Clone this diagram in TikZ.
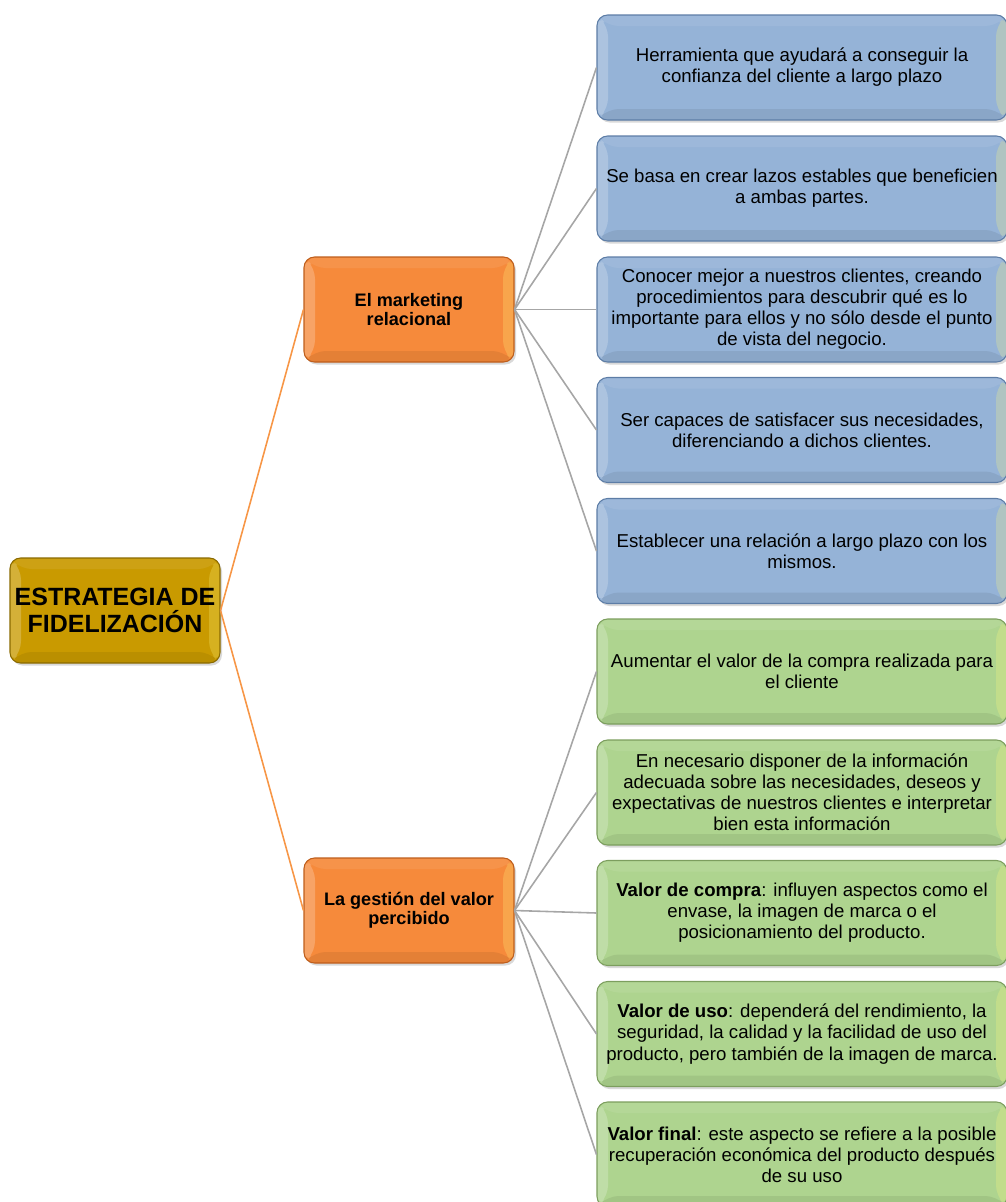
\documentclass[tikz,border=0pt]{standalone}
\usepackage{fontspec}
\setmainfont{Liberation Sans}
\usetikzlibrary{calc,shadows}
\definecolor{goldfill}{HTML}{C99A00}
\definecolor{golddraw}{HTML}{8A6A00}
\definecolor{orangefill}{HTML}{F68A3B}
\definecolor{orangedraw}{HTML}{BE5E1C}
\definecolor{bluefill}{HTML}{95B3D7}
\definecolor{bluedraw}{HTML}{5D7DA6}
\definecolor{greenfill}{HTML}{AED48F}
\definecolor{greendraw}{HTML}{7C9E5E}
\definecolor{linkgray}{HTML}{A6A6A6}
\definecolor{linkorange}{HTML}{F79646}
\newcommand{\bevelfaces}{%
	\coordinate (pnw) at (path picture bounding box.north west);
	\coordinate (pne) at (path picture bounding box.north east);
	\coordinate (psw) at (path picture bounding box.south west);
	\coordinate (pse) at (path picture bounding box.south east);
	\fill[white,opacity=.22] (pnw) -- (psw) -- ($(psw)+(.22,.22)$) -- ($(pnw)+(.22,-.22)$) -- cycle;
	\fill[yellow!50!white,opacity=.25] (pne) -- (pse) -- ($(pse)+(-.22,.22)$) -- ($(pne)+(-.22,-.22)$) -- cycle;
	\fill[white,opacity=.08] (pnw) -- (pne) -- ($(pne)+(-.22,-.22)$) -- ($(pnw)+(.22,-.22)$) -- cycle;
	\fill[black,opacity=.07] (psw) -- (pse) -- ($(pse)+(-.22,.22)$) -- ($(psw)+(.22,.22)$) -- cycle;
}
\tikzset{
	box/.style={rounded corners=6pt, line width=0.6pt, align=center, inner sep=0pt,
		drop shadow={opacity=.3, shadow xshift=.04, shadow yshift=-.05},
		path picture={\bevelfaces}},
	rootbox/.style={box, fill=goldfill, draw=golddraw, minimum width=4.2cm, minimum height=2.1cm,
		font=\fontsize{14.2}{15.5}\selectfont\bfseries},
	topicbox/.style={box, fill=orangefill, draw=orangedraw, minimum width=4.2cm, minimum height=2.1cm,
		font=\fontsize{10.3}{10.8}\selectfont\bfseries},
	ideabox/.style={box, fill=bluefill, draw=bluedraw, minimum width=8.2cm, minimum height=2.1cm,
		font=\fontsize{10.6}{12}\selectfont},
	valuebox/.style={box, fill=greenfill, draw=greendraw, minimum width=8.2cm, minimum height=2.1cm,
		font=\fontsize{10.6}{12}\selectfont},
	graylink/.style={draw=linkgray, line width=0.9pt},
	orangelink/.style={draw=linkorange, line width=0.9pt}
}

\begin{document}
\begin{tikzpicture}
		%%%%% START %%%%%
		\useasboundingbox (0, 0) rectangle (20.12, -24.04);
		
		\node[rootbox] (root) at (2.30, -12.21) {ESTRATEGIA DE\\FIDELIZACIÓN};
		
		\node[topicbox] (mkt) at (8.18, -6.19) {El marketing\\relacional};
		\node[topicbox] (val) at (8.18, -18.21) {La gestión del valor\\percibido};
		
		\node[ideabox] (b1) at (16.04, -1.35) {Herramienta que ayudará a conseguir la\\confianza del cliente a largo plazo};
		\node[ideabox] (b2) at (16.04, -3.77) {Se basa en crear lazos estables que beneficien\\a ambas partes.};
		\node[ideabox] (b3) at (16.04, -6.19) {Conocer mejor a nuestros clientes, creando\\procedimientos para descubrir qué es lo\\importante para ellos y no sólo desde el punto\\de vista del negocio.};
		\node[ideabox] (b4) at (16.04, -8.60) {Ser capaces de satisfacer sus necesidades,\\diferenciando a dichos clientes.};
		\node[ideabox] (b5) at (16.04, -11.02) {Establecer una relación a largo plazo con los\\mismos.};
		
		\node[valuebox] (g1) at (16.04, -13.43) {Aumentar el valor de la compra realizada para\\el cliente};
		\node[valuebox] (g2) at (16.04, -15.85) {En necesario disponer de la información\\adecuada sobre las necesidades, deseos y\\expectativas de nuestros clientes e interpretar\\bien esta información};
		\node[valuebox] (g3) at (16.04, -18.26) {\textbf{Valor de compra}: influyen aspectos como el\\envase, la imagen de marca o el\\posicionamiento del producto.};
		\node[valuebox] (g4) at (16.04, -20.68) {\textbf{Valor de uso}: dependerá del rendimiento, la\\seguridad, la calidad y la facilidad de uso del\\producto, pero también de la imagen de marca.};
		\node[valuebox] (g5) at (16.04, -23.09) {\textbf{Valor final}: este aspecto se refiere a la posible\\recuperación económica del producto después\\de su uso};
		
		% root to topics
		\draw[orangelink] (root.east) -- (mkt.west);
		\draw[orangelink] (root.east) -- (val.west);
		
		% topics to ideas
		\draw[graylink] (mkt.east) -- (b1.west);
		\draw[graylink] (mkt.east) -- (b2.west);
		\draw[graylink] (mkt.east) -- (b3.west);
		\draw[graylink] (mkt.east) -- (b4.west);
		\draw[graylink] (mkt.east) -- (b5.west);
		
		\draw[graylink] (val.east) -- (g1.west);
		\draw[graylink] (val.east) -- (g2.west);
		\draw[graylink] (val.east) -- (g3.west);
		\draw[graylink] (val.east) -- (g4.west);
		\draw[graylink] (val.east) -- (g5.west);
		%%%%% END %%%%%
\end{tikzpicture}
\end{document}
